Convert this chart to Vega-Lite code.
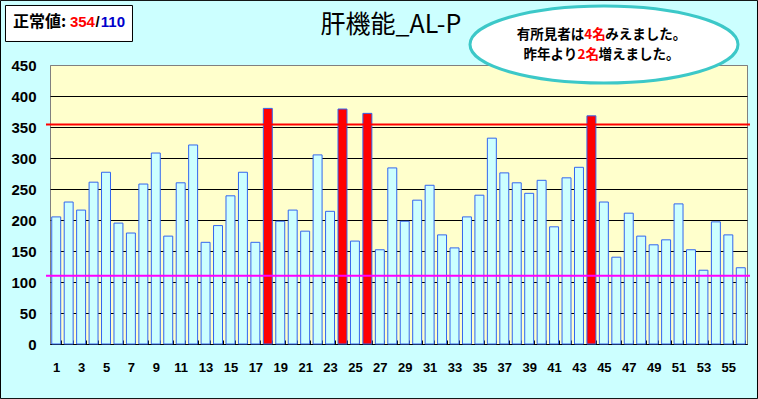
{
  "$schema": "https://vega.github.io/schema/vega-lite/v6.json",
  "width": 697,
  "height": 279,
  "autosize": {"type": "none"},
  "padding": {"left": 50, "top": 65, "right": 11, "bottom": 55},
  "background": "#ccffff",
  "config": {
    "view": {"fill": "#ffffcc", "stroke": "#808080", "strokeWidth": 1}
  },
  "data": {
    "values": [
      {"id": 1, "value": 205, "group": "normal"},
      {"id": 2, "value": 229, "group": "normal"},
      {"id": 3, "value": 216, "group": "normal"},
      {"id": 4, "value": 261, "group": "normal"},
      {"id": 5, "value": 277, "group": "normal"},
      {"id": 6, "value": 195, "group": "normal"},
      {"id": 7, "value": 179, "group": "normal"},
      {"id": 8, "value": 258, "group": "normal"},
      {"id": 9, "value": 308, "group": "normal"},
      {"id": 10, "value": 174, "group": "normal"},
      {"id": 11, "value": 260, "group": "normal"},
      {"id": 12, "value": 321, "group": "normal"},
      {"id": 13, "value": 164, "group": "normal"},
      {"id": 14, "value": 191, "group": "normal"},
      {"id": 15, "value": 239, "group": "normal"},
      {"id": 16, "value": 277, "group": "normal"},
      {"id": 17, "value": 164, "group": "normal"},
      {"id": 18, "value": 380, "group": "high"},
      {"id": 19, "value": 198, "group": "normal"},
      {"id": 20, "value": 216, "group": "normal"},
      {"id": 21, "value": 182, "group": "normal"},
      {"id": 22, "value": 305, "group": "normal"},
      {"id": 23, "value": 214, "group": "normal"},
      {"id": 24, "value": 379, "group": "high"},
      {"id": 25, "value": 166, "group": "normal"},
      {"id": 26, "value": 372, "group": "high"},
      {"id": 27, "value": 152, "group": "normal"},
      {"id": 28, "value": 284, "group": "normal"},
      {"id": 29, "value": 198, "group": "normal"},
      {"id": 30, "value": 232, "group": "normal"},
      {"id": 31, "value": 256, "group": "normal"},
      {"id": 32, "value": 176, "group": "normal"},
      {"id": 33, "value": 155, "group": "normal"},
      {"id": 34, "value": 205, "group": "normal"},
      {"id": 35, "value": 240, "group": "normal"},
      {"id": 36, "value": 332, "group": "normal"},
      {"id": 37, "value": 276, "group": "normal"},
      {"id": 38, "value": 260, "group": "normal"},
      {"id": 39, "value": 243, "group": "normal"},
      {"id": 40, "value": 264, "group": "normal"},
      {"id": 41, "value": 189, "group": "normal"},
      {"id": 42, "value": 268, "group": "normal"},
      {"id": 43, "value": 285, "group": "normal"},
      {"id": 44, "value": 368, "group": "high"},
      {"id": 45, "value": 229, "group": "normal"},
      {"id": 46, "value": 140, "group": "normal"},
      {"id": 47, "value": 211, "group": "normal"},
      {"id": 48, "value": 174, "group": "normal"},
      {"id": 49, "value": 160, "group": "normal"},
      {"id": 50, "value": 168, "group": "normal"},
      {"id": 51, "value": 226, "group": "normal"},
      {"id": 52, "value": 152, "group": "normal"},
      {"id": 53, "value": 119, "group": "normal"},
      {"id": 54, "value": 197, "group": "normal"},
      {"id": 55, "value": 176, "group": "normal"},
      {"id": 56, "value": 123, "group": "normal"}
    ]
  },
  "layer": [
    {
      "mark": {"type": "bar", "stroke": "#3366ee", "strokeWidth": 1},
      "encoding": {
        "x": {
          "field": "id", "type": "ordinal",
          "scale": {"paddingInner": 0.28, "paddingOuter": 0.14},
          "axis": {
            "title": null, "labelAngle": 0,
            "labelExpr": "datum.value % 2 == 1 ? datum.label : ''",
            "labelOverlap": false,
            "labelFont": "Liberation Sans", "labelFontSize": 13, "labelFontWeight": "bold", "labelColor": "black",
            "labelPadding": 21,
            "tickBand": "extent", "tickSize": -4, "tickColor": "black",
            "domainColor": "black", "grid": false
          }
        },
        "y": {
          "field": "value", "type": "quantitative",
          "scale": {"domain": [0, 450], "nice": false, "zero": true},
          "axis": {
            "title": null,
            "values": [0, 50, 100, 150, 200, 250, 300, 350, 400, 450],
            "labelOverlap": false,
            "domain": false, "ticks": false,
            "grid": true,
            "gridColor": {"condition": {"test": "datum.value == 450", "value": "#808080"}, "value": "black"},
            "gridOpacity": 1, "gridWidth": 1,
            "labelFont": "Liberation Sans", "labelFontSize": 15, "labelFontWeight": "bold", "labelColor": "black",
            "labelPadding": 14
          }
        },
        "fill": {
          "field": "group", "type": "nominal",
          "scale": {"domain": ["normal", "high"], "range": ["#ccffff", "#ff0000"]},
          "legend": null
        }
      }
    },
    {
      "data": {"values": [{}]},
      "mark": {"type": "rule", "color": "#ff0000", "strokeWidth": 2, "clip": false},
      "encoding": {
        "x": {"datum": 0.1786, "type": "quantitative", "scale": {"domain": [0.5, 56.5], "nice": false, "zero": false}, "axis": null},
        "x2": {"datum": 56.74},
        "y": {"datum": 354, "type": "quantitative", "scale": {"domain": [0, 450], "nice": false, "zero": false}, "axis": null}
      }
    },
    {
      "data": {"values": [{}]},
      "mark": {"type": "rule", "color": "#ff00ff", "strokeWidth": 2, "clip": false},
      "encoding": {
        "x": {"datum": 0.1786, "type": "quantitative", "scale": {"domain": [0.5, 56.5], "nice": false, "zero": false}, "axis": null},
        "x2": {"datum": 56.74},
        "y": {"datum": 110, "type": "quantitative", "scale": {"domain": [0, 450], "nice": false, "zero": false}, "axis": null}
      }
    },
    {
      "data": {"values": [{}]},
      "mark": {"type": "point", "shape": "M-1,-0.526L1,-0.526L1,0.526L-1,0.526Z", "size": 573049, "filled": false, "stroke": "black", "strokeWidth": 1, "opacity": 1, "clip": false},
      "encoding": {
        "x": {"datum": 26.933, "type": "quantitative", "scale": {"domain": [0.5, 56.5], "nice": false, "zero": false}, "axis": null},
        "y": {"datum": 233.06, "type": "quantitative", "scale": {"domain": [0, 450], "nice": false, "zero": false}, "axis": null}
      }
    },
    {
      "data": {"values": [{}]},
      "mark": {"type": "point", "shape": "M-1,-0.2835L1,-0.2835L1,0.2835L-1,0.2835Z", "size": 16129, "filled": true, "fill": "white", "stroke": "black", "strokeWidth": 1, "opacity": 1, "clip": false},
      "encoding": {
        "x": {"datum": 2.0265, "type": "quantitative", "scale": {"domain": [0.5, 56.5], "nice": false, "zero": false}, "axis": null},
        "y": {"datum": 516.94, "type": "quantitative", "scale": {"domain": [0, 450], "nice": false, "zero": false}, "axis": null}
      }
    },
    {
      "data": {"values": [{}]},
      "mark": {"type": "point", "shape": "M1,0C1,0.1587 0.5523,0.2873 0,0.2873C-0.5523,0.2873 -1,0.1587 -1,0C-1,-0.1587 -0.5523,-0.2873 0,-0.2873C0.5523,-0.2873 1,-0.1587 1,0Z", "size": 71824, "filled": true, "fill": "white", "stroke": "#3cc8c8", "strokeWidth": 3, "opacity": 1, "clip": false},
      "encoding": {
        "x": {"datum": 45.0107, "type": "quantitative", "scale": {"domain": [0.5, 56.5], "nice": false, "zero": false}, "axis": null},
        "y": {"datum": 483.06, "type": "quantitative", "scale": {"domain": [0, 450], "nice": false, "zero": false}, "axis": null}
      }
    },
    {
      "data": {"values": [{"t": "肝機能_AL-P"}]},
      "mark": {"type": "text", "font": "Noto Sans CJK JP", "fontSize": 25, "fontWeight": "normal", "color": "black", "align": "center", "baseline": "alphabetic", "clip": false},
      "encoding": {
        "x": {"datum": 27.897, "type": "quantitative", "scale": {"domain": [0.5, 56.5], "nice": false, "zero": false}, "axis": null},
        "y": {"datum": 501.61, "type": "quantitative", "scale": {"domain": [0, 450], "nice": false, "zero": false}, "axis": null},
        "text": {"field": "t"}
      }
    },
    {
      "data": {"values": [{"t": "正常値:"}]},
      "mark": {"type": "text", "font": "Noto Sans CJK JP", "fontSize": 16, "fontWeight": "bold", "color": "black", "align": "left", "baseline": "middle", "clip": false},
      "encoding": {
        "x": {"datum": -2.4727, "type": "quantitative", "scale": {"domain": [0.5, 56.5], "nice": false, "zero": false}, "axis": null},
        "y": {"datum": 520.16, "type": "quantitative", "scale": {"domain": [0, 450], "nice": false, "zero": false}, "axis": null},
        "text": {"field": "t"}
      }
    },
    {
      "data": {"values": [{"t": "354"}]},
      "mark": {"type": "text", "font": "Liberation Sans", "fontSize": 15, "fontWeight": "bold", "color": "#ff0000", "align": "left", "baseline": "middle", "clip": false},
      "encoding": {
        "x": {"datum": 2.10, "type": "quantitative", "scale": {"domain": [0.5, 56.5], "nice": false, "zero": false}, "axis": null},
        "y": {"datum": 520.16, "type": "quantitative", "scale": {"domain": [0, 450], "nice": false, "zero": false}, "axis": null},
        "text": {"field": "t"}
      }
    },
    {
      "data": {"values": [{"t": "/"}]},
      "mark": {"type": "text", "font": "Liberation Sans", "fontSize": 15, "fontWeight": "bold", "color": "black", "align": "left", "baseline": "middle", "clip": false},
      "encoding": {
        "x": {"datum": 4.15, "type": "quantitative", "scale": {"domain": [0.5, 56.5], "nice": false, "zero": false}, "axis": null},
        "y": {"datum": 520.16, "type": "quantitative", "scale": {"domain": [0, 450], "nice": false, "zero": false}, "axis": null},
        "text": {"field": "t"}
      }
    },
    {
      "data": {"values": [{"t": "110"}]},
      "mark": {"type": "text", "font": "Liberation Sans", "fontSize": 15, "fontWeight": "bold", "color": "#0000cc", "align": "left", "baseline": "middle", "clip": false},
      "encoding": {
        "x": {"datum": 4.58, "type": "quantitative", "scale": {"domain": [0.5, 56.5], "nice": false, "zero": false}, "axis": null},
        "y": {"datum": 520.16, "type": "quantitative", "scale": {"domain": [0, 450], "nice": false, "zero": false}, "axis": null},
        "text": {"field": "t"}
      }
    },
    {
      "data": {"values": [{"t": "有所見者は"}]},
      "mark": {"type": "text", "font": "Noto Sans CJK JP", "fontSize": 13.5, "fontWeight": "bold", "color": "black", "align": "left", "baseline": "middle", "clip": false},
      "encoding": {
        "x": {"datum": 38.004, "type": "quantitative", "scale": {"domain": [0.5, 56.5], "nice": false, "zero": false}, "axis": null},
        "y": {"datum": 498.39, "type": "quantitative", "scale": {"domain": [0, 450], "nice": false, "zero": false}, "axis": null},
        "text": {"field": "t"}
      }
    },
    {
      "data": {"values": [{"t": "4名"}]},
      "mark": {"type": "text", "font": "Noto Sans CJK JP", "fontSize": 13.5, "fontWeight": "bold", "color": "#ff0000", "align": "left", "baseline": "middle", "clip": false},
      "encoding": {
        "x": {"datum": 43.428, "type": "quantitative", "scale": {"domain": [0.5, 56.5], "nice": false, "zero": false}, "axis": null},
        "y": {"datum": 498.39, "type": "quantitative", "scale": {"domain": [0, 450], "nice": false, "zero": false}, "axis": null},
        "text": {"field": "t"}
      }
    },
    {
      "data": {"values": [{"t": "みえました。"}]},
      "mark": {"type": "text", "font": "Noto Sans CJK JP", "fontSize": 13.5, "fontWeight": "bold", "color": "black", "align": "left", "baseline": "middle", "clip": false},
      "encoding": {
        "x": {"datum": 45.107, "type": "quantitative", "scale": {"domain": [0.5, 56.5], "nice": false, "zero": false}, "axis": null},
        "y": {"datum": 498.39, "type": "quantitative", "scale": {"domain": [0, 450], "nice": false, "zero": false}, "axis": null},
        "text": {"field": "t"}
      }
    },
    {
      "data": {"values": [{"t": "昨年より"}]},
      "mark": {"type": "text", "font": "Noto Sans CJK JP", "fontSize": 13.5, "fontWeight": "bold", "color": "black", "align": "left", "baseline": "middle", "clip": false},
      "encoding": {
        "x": {"datum": 38.543, "type": "quantitative", "scale": {"domain": [0.5, 56.5], "nice": false, "zero": false}, "axis": null},
        "y": {"datum": 466.13, "type": "quantitative", "scale": {"domain": [0, 450], "nice": false, "zero": false}, "axis": null},
        "text": {"field": "t"}
      }
    },
    {
      "data": {"values": [{"t": "2名"}]},
      "mark": {"type": "text", "font": "Noto Sans CJK JP", "fontSize": 13.5, "fontWeight": "bold", "color": "#ff0000", "align": "left", "baseline": "middle", "clip": false},
      "encoding": {
        "x": {"datum": 42.881, "type": "quantitative", "scale": {"domain": [0.5, 56.5], "nice": false, "zero": false}, "axis": null},
        "y": {"datum": 466.13, "type": "quantitative", "scale": {"domain": [0, 450], "nice": false, "zero": false}, "axis": null},
        "text": {"field": "t"}
      }
    },
    {
      "data": {"values": [{"t": "増えました。"}]},
      "mark": {"type": "text", "font": "Noto Sans CJK JP", "fontSize": 13.5, "fontWeight": "bold", "color": "black", "align": "left", "baseline": "middle", "clip": false},
      "encoding": {
        "x": {"datum": 44.560, "type": "quantitative", "scale": {"domain": [0.5, 56.5], "nice": false, "zero": false}, "axis": null},
        "y": {"datum": 466.13, "type": "quantitative", "scale": {"domain": [0, 450], "nice": false, "zero": false}, "axis": null},
        "text": {"field": "t"}
      }
    }
  ],
  "resolve": {
    "scale": {"x": "independent", "y": "independent"},
    "axis": {"x": "independent", "y": "independent"}
  }
}
